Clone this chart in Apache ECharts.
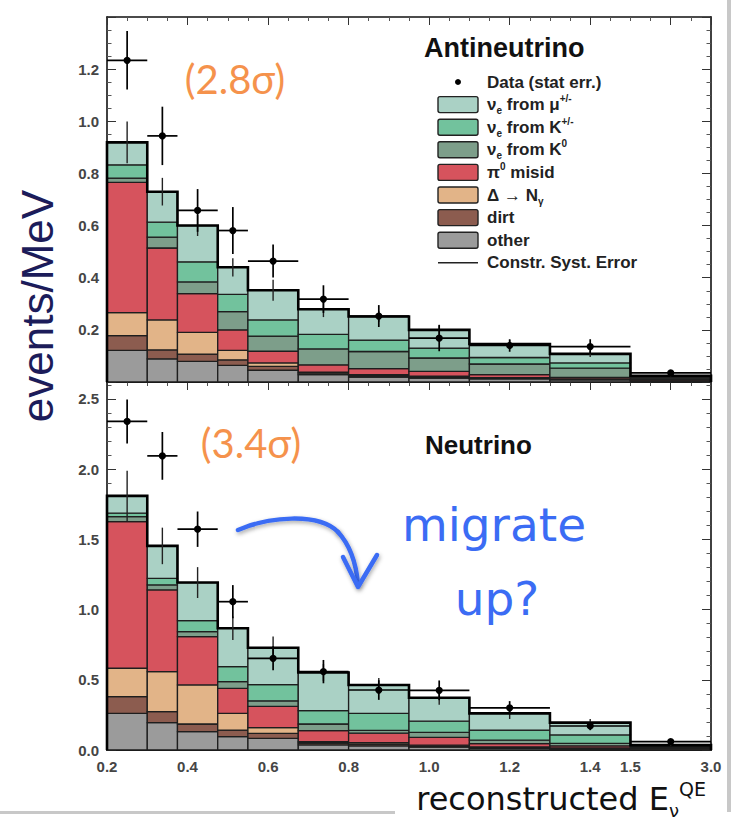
<!DOCTYPE html>
<html><head><meta charset="utf-8">
<script src="https://cdn.jsdelivr.net/npm/echarts@6/dist/echarts.min.js"></script>
<style>html,body{margin:0;padding:0;background:#fff}#c{width:740px;height:819px}</style>
</head><body><div id="c"></div>
<script>
// ---------------- DATA ----------------
const binEdges = [0.2, 0.3, 0.375, 0.475, 0.55, 0.675, 0.8, 0.95, 1.1, 1.3, 1.5, 3.0];
const xTickValues = [0.2, 0.4, 0.6, 0.8, 1.0, 1.2, 1.4, 1.5, 3.0];
const xTickLabels = ['0.2', '0.4', '0.6', '0.8', '1.0', '1.2', '1.4', '1.5', '3.0'];

// Antineutrino panel (events/MeV), components bottom -> top
const antiOther = [0.121, 0.089, 0.079, 0.064, 0.045, 0.028, 0.019, 0.015, 0.012, 0.008, 0.004];
const antiDirt  = [0.057, 0.034, 0.028, 0.021, 0.015, 0.006, 0.005, 0.004, 0.003, 0.002, 0.002];
const antiDelta = [0.088, 0.115, 0.083, 0.036, 0.013, 0.004, 0.004, 0.003, 0.002, 0.002, 0.001];
const antiPi0   = [0.500, 0.276, 0.149, 0.079, 0.045, 0.028, 0.023, 0.019, 0.011, 0.006, 0.002];
const antiK0    = [0.016, 0.042, 0.045, 0.070, 0.058, 0.061, 0.066, 0.051, 0.041, 0.035, 0.006];
const antiKpm   = [0.051, 0.057, 0.077, 0.066, 0.062, 0.056, 0.044, 0.038, 0.025, 0.020, 0.004];
const antiMu    = [0.086, 0.117, 0.139, 0.104, 0.114, 0.096, 0.090, 0.070, 0.052, 0.035, 0.005];
const antiData    = [1.234, 0.944, 0.658, 0.581, 0.464, 0.318, 0.253, 0.168, 0.140, 0.136, 0.035];
const antiStatErr = [0.112, 0.112, 0.082, 0.090, 0.063, 0.053, 0.042, 0.050, 0.024, 0.028, 0.008];
const antiSystErr = [0.080, 0.053, 0.040, 0.035, 0.040, 0.030, 0.020, 0.020, 0.015, 0.012, 0.004];

// Neutrino panel (events/MeV)
const nuOther = [0.261, 0.195, 0.131, 0.095, 0.083, 0.036, 0.030, 0.020, 0.012, 0.008, 0.004];
const nuDirt  = [0.119, 0.078, 0.054, 0.047, 0.036, 0.014, 0.012, 0.008, 0.006, 0.004, 0.002];
const nuDelta = [0.202, 0.285, 0.278, 0.119, 0.041, 0.009, 0.010, 0.006, 0.004, 0.003, 0.002];
const nuPi0   = [1.044, 0.582, 0.344, 0.178, 0.150, 0.079, 0.068, 0.056, 0.023, 0.015, 0.004];
const nuK0    = [0.036, 0.035, 0.036, 0.048, 0.040, 0.047, 0.020, 0.035, 0.025, 0.017, 0.006];
const nuKpm   = [0.024, 0.047, 0.078, 0.107, 0.116, 0.095, 0.121, 0.080, 0.072, 0.060, 0.007];
const nuMu    = [0.123, 0.231, 0.271, 0.273, 0.262, 0.272, 0.202, 0.167, 0.119, 0.088, 0.010];
const nuData    = [2.339, 2.094, 1.572, 1.056, 0.653, 0.558, 0.427, 0.425, 0.300, 0.171, 0.060];
const nuStatErr = [0.157, 0.170, 0.126, 0.118, 0.085, 0.083, 0.070, 0.070, 0.048, 0.030, 0.012];
const nuSystErr = [0.180, 0.130, 0.110, 0.083, 0.080, 0.060, 0.050, 0.050, 0.040, 0.025, 0.008];

const componentNames = ['other', 'dirt', 'Δ → Nγ', 'π0 misid', 'νe from K0', 'νe from K+/-', 'νe from μ+/-'];
const componentColors = ['#9b9b9b', '#8c5c4f', '#e2b488', '#d6535d', '#7d9e8a', '#72c29d', '#aad1c5'];

// ---------------- HELPERS ----------------
// axis is linear up to 1.5, then 1.5..3.0 compressed (axis break in original)
const mapX = x => (x <= 1.5 ? x : 1.5 + (x - 1.5) * 0.2 / 1.5);
const nBins = binEdges.length - 1;
const binIdx = Array.from({length: nBins}, (_, i) => [i]);

function stackSeries(comps, k, color, axisIdx) {
  return {
    type: 'custom', name: componentNames[k], xAxisIndex: axisIdx, yAxisIndex: axisIdx,
    silent: true, data: binIdx, z: 2,
    renderItem(params, api) {
      const i = api.value(0);
      let lo = 0;
      for (let j = 0; j < k; j++) lo += comps[j][i];
      const hi = lo + comps[k][i];
      const p0 = api.coord([mapX(binEdges[i]), lo]);
      const p1 = api.coord([mapX(binEdges[i + 1]), hi]);
      return {type: 'rect', shape: {x: p0[0], y: p1[1], width: p1[0] - p0[0], height: p0[1] - p1[1]},
        style: {fill: color, stroke: '#1e1e1e', lineWidth: 1.3}};
    }
  };
}
function totals(comps) {
  return binIdx.map(([i]) => comps.reduce((s, c) => s + c[i], 0));
}
function outlineSeries(comps, axisIdx) {
  const tot = totals(comps);
  return {
    type: 'custom', xAxisIndex: axisIdx, yAxisIndex: axisIdx, silent: true, data: [[0]], z: 3,
    renderItem(params, api) {
      const pts = [api.coord([mapX(binEdges[0]), 0])];
      for (let i = 0; i < nBins; i++) {
        pts.push(api.coord([mapX(binEdges[i]), tot[i]]));
        pts.push(api.coord([mapX(binEdges[i + 1]), tot[i]]));
      }
      pts.push(api.coord([mapX(binEdges[nBins]), 0]));
      return {type: 'polyline', shape: {points: pts}, style: {stroke: '#000', lineWidth: 2.6, fill: null}};
    }
  };
}
function systSeries(comps, err, axisIdx) {
  const tot = totals(comps);
  return {
    type: 'custom', xAxisIndex: axisIdx, yAxisIndex: axisIdx, silent: true, data: binIdx, z: 4,
    renderItem(params, api) {
      const i = api.value(0);
      const xc = (mapX(binEdges[i]) + mapX(binEdges[i + 1])) / 2;
      const a = api.coord([xc, tot[i] - err[i]]), b = api.coord([xc, tot[i] + err[i]]);
      return {type: 'line', shape: {x1: a[0], y1: a[1], x2: b[0], y2: b[1]}, style: {stroke: '#222', lineWidth: 1.4}};
    }
  };
}
function dataSeries(vals, err, axisIdx) {
  return {
    type: 'custom', xAxisIndex: axisIdx, yAxisIndex: axisIdx, silent: true, data: binIdx, z: 5,
    renderItem(params, api) {
      const i = api.value(0);
      const x0 = mapX(binEdges[i]), x1 = mapX(binEdges[i + 1]), xc = (x0 + x1) / 2;
      const l = api.coord([x0, vals[i]]), r = api.coord([x1, vals[i]]);
      const t = api.coord([xc, vals[i] + err[i]]), b = api.coord([xc, vals[i] - err[i]]);
      const c = api.coord([xc, vals[i]]);
      return {type: 'group', children: [
        {type: 'line', shape: {x1: l[0], y1: l[1], x2: r[0], y2: r[1]}, style: {stroke: '#000', lineWidth: 1.7}},
        {type: 'line', shape: {x1: t[0], y1: t[1], x2: b[0], y2: b[1]}, style: {stroke: '#000', lineWidth: 1.7}},
        {type: 'circle', shape: {cx: c[0], cy: c[1], r: 3.6}, style: {fill: '#000'}}
      ]};
    }
  };
}

const axisLineStyle = {color: '#111', width: 1.6};
const labelStyle = {color: '#454545', fontWeight: 'bold', fontSize: 15, fontFamily: 'Liberation Sans, Arial, sans-serif'};
function xAxisDef(grid, pos, labels) {
  return {
    gridIndex: grid, type: 'value', position: pos, min: 0.2, max: 1.7, interval: 0.2,
    axisLine: {show: true, onZero: false, lineStyle: {color: '#111', width: pos === 'bottom' ? 2 : 1.6}},
    axisTick: {show: true, inside: true, length: 8, lineStyle: {color: '#333', width: 1}},
    minorTick: {show: true, splitNumber: 4, length: 4, lineStyle: {color: '#555', width: 1}},
    splitLine: {show: false}, minorSplitLine: {show: false},
    axisLabel: labels ? Object.assign({
      show: true, margin: 9,
      customValues: xTickValues.map(mapX),
      formatter: v => { const i = xTickValues.findIndex(t => Math.abs(mapX(t) - v) < 1e-6); return i >= 0 ? xTickLabels[i] : ''; }
    }, labelStyle) : {show: false}
  };
}
function yAxisDef(grid, pos, max, interval, minorSplit, labels, showMin) {
  return {
    gridIndex: grid, type: 'value', position: pos, min: 0, max: max, interval: interval,
    axisLine: {show: true, onZero: false, lineStyle: axisLineStyle},
    axisTick: {show: true, inside: true, length: 9, lineStyle: {color: '#333', width: 1}},
    minorTick: {show: true, splitNumber: minorSplit, length: 4.5, lineStyle: {color: '#555', width: 1}},
    splitLine: {show: false}, minorSplitLine: {show: false},
    axisLabel: labels ? Object.assign({
      show: true, margin: 8, showMinLabel: showMin, showMaxLabel: false,
      formatter: v => v.toFixed(1)
    }, labelStyle) : {show: false}
  };
}

const antiComps = [antiOther, antiDirt, antiDelta, antiPi0, antiK0, antiKpm, antiMu];
const nuComps = [nuOther, nuDirt, nuDelta, nuPi0, nuK0, nuKpm, nuMu];

const series = [];
antiComps.forEach((c, k) => series.push(stackSeries(antiComps, k, componentColors[k], 0)));
series.push(outlineSeries(antiComps, 0), systSeries(antiComps, antiSystErr, 0), dataSeries(antiData, antiStatErr, 0));
nuComps.forEach((c, k) => series.push(stackSeries(nuComps, k, componentColors[k], 2)));
series.push(outlineSeries(nuComps, 2), systSeries(nuComps, nuSystErr, 2), dataSeries(nuData, nuStatErr, 2));

// ---------------- LEGEND (as graphic) ----------------
const legendTexts = [
  '{b|Data (stat err.)}',
  '{b|ν}{s|e}{b| from μ}{p|+/-}',
  '{b|ν}{s|e}{b| from K}{p|+/-}',
  '{b|ν}{s|e}{b| from K}{p|0}',
  '{b|π}{p|0}{b| misid}',
  '{b|Δ → N}{s|γ}',
  '{b|dirt}',
  '{b|other}',
  '{b|Constr. Syst. Error}'
];
const legendKinds = ['dot', 6, 5, 4, 3, 2, 1, 0, 'line'];
const FF = 'Liberation Sans, Arial, sans-serif';
const legRich = {
  b: {fontSize: 17, fontWeight: 'bold', fill: '#222', lineHeight: 22, fontFamily: FF},
  s: {fontSize: 10, fontWeight: 'bold', fill: '#222', lineHeight: 22, verticalAlign: 'bottom', fontFamily: FF},
  p: {fontSize: 10, fontWeight: 'bold', fill: '#222', lineHeight: 22, verticalAlign: 'top', fontFamily: FF}
};
const graphics = [];
legendTexts.forEach((t, r) => {
  const yc = 82 + r * 22.6;
  const kind = legendKinds[r];
  if (kind === 'dot') graphics.push({type: 'circle', shape: {cx: 458, cy: yc, r: 3}, style: {fill: '#000'}});
  else if (kind === 'line') graphics.push({type: 'line', shape: {x1: 438, y1: yc, x2: 478, y2: yc}, style: {stroke: '#222', lineWidth: 1.6}});
  else graphics.push({type: 'rect', shape: {x: 438, y: yc - 8, width: 40, height: 16, r: 2},
    style: {fill: componentColors[kind], stroke: '#222', lineWidth: 1.4}});
  graphics.push({type: 'text', x: 487, y: yc, style: {text: t, rich: legRich, verticalAlign: 'middle', align: 'left'}});
});
const arrowStyle = {stroke: '#3b6cf4', lineWidth: 4.5, fill: null, lineCap: 'round', lineJoin: 'round',
  shadowBlur: 4, shadowColor: 'rgba(0,0,0,0.35)', shadowOffsetX: 1, shadowOffsetY: 2};
const XF = '"DejaVu Sans", sans-serif';
graphics.push(
  {type: 'text', x: 424, y: 48, style: {text: 'Antineutrino', font: 'bold 27px "Liberation Sans", Arial, sans-serif', fill: '#111', verticalAlign: 'middle'}},
  {type: 'text', x: 425, y: 445, style: {text: 'Neutrino', font: 'bold 26px "Liberation Sans", Arial, sans-serif', fill: '#111', verticalAlign: 'middle'}},
  {type: 'text', x: 235, y: 79, style: {text: '(2.8σ)', font: '40px Lato, "Open Sans", sans-serif', fill: '#f5924c', align: 'center', verticalAlign: 'middle'}},
  {type: 'text', x: 251, y: 443, style: {text: '(3.4σ)', font: '40px Lato, "Open Sans", sans-serif', fill: '#f5924c', align: 'center', verticalAlign: 'middle'}},
  {type: 'text', x: 494, y: 524, style: {text: 'migrate', font: '47px "DejaVu Sans", sans-serif', fill: '#3b6cf4', align: 'center', verticalAlign: 'middle'}},
  {type: 'text', x: 497, y: 598, style: {text: 'up?', font: '47px "DejaVu Sans", sans-serif', fill: '#3b6cf4', align: 'center', verticalAlign: 'middle'}},
  {type: 'bezierCurve', shape: {x1: 238, y1: 530, cpx1: 268, cpy1: 517, cpx2: 318, cpy2: 512, x2: 338, y2: 532}, style: arrowStyle},
  {type: 'bezierCurve', shape: {x1: 338, y1: 532, cpx1: 350, cpy1: 545, cpx2: 356, cpy2: 562, x2: 358, y2: 584}, style: arrowStyle},
  {type: 'polyline', shape: {points: [[343, 557], [358, 587], [377, 555]]}, style: arrowStyle},
  {type: 'text', x: 37, y: 306, rotation: Math.PI / 2, style: {text: 'events/MeV', font: '44px "Liberation Sans", Arial, sans-serif', fill: '#1c1c5a', align: 'center', verticalAlign: 'middle'}},
  {type: 'text', x: 706, y: 799, style: {
    text: '{m|reconstructed E}{s|ν}{p|QE}', align: 'right', verticalAlign: 'middle',
    rich: {
      m: {fontSize: 32, fontFamily: XF, fill: '#111', lineHeight: 40},
      s: {fontSize: 18, fontFamily: XF, fill: '#111', lineHeight: 40, verticalAlign: 'bottom'},
      p: {fontSize: 19, fontFamily: XF, fill: '#111', lineHeight: 40, verticalAlign: 'top'}
    }}},
  {type: 'rect', shape: {x: 727, y: 0, width: 4, height: 812}, style: {fill: '#c8c8c8'}},
  {type: 'rect', shape: {x: 0, y: 811, width: 395, height: 3}, style: {fill: '#c8c8c8'}}
);

const chart = echarts.init(document.getElementById('c'), null, {renderer: 'svg'});
chart.setOption({
  animation: false,
  backgroundColor: '#fff',
  grid: [
    {left: 107, top: 17, width: 604, height: 365, outerBoundsMode: 'none', containLabel: false},
    {left: 107, top: 382, width: 604, height: 368, outerBoundsMode: 'none', containLabel: false}
  ],
  xAxis: [xAxisDef(0, 'bottom', false), xAxisDef(0, 'top', false), xAxisDef(1, 'bottom', true), xAxisDef(1, 'top', false)],
  yAxis: [yAxisDef(0, 'left', 1.4, 0.2, 4, true, false), yAxisDef(0, 'right', 1.4, 0.2, 4, false, false),
          yAxisDef(1, 'left', 2.62, 0.5, 5, true, true), yAxisDef(1, 'right', 2.62, 0.5, 5, false, false)],
  series: series,
  graphic: graphics
});
</script></body></html>
